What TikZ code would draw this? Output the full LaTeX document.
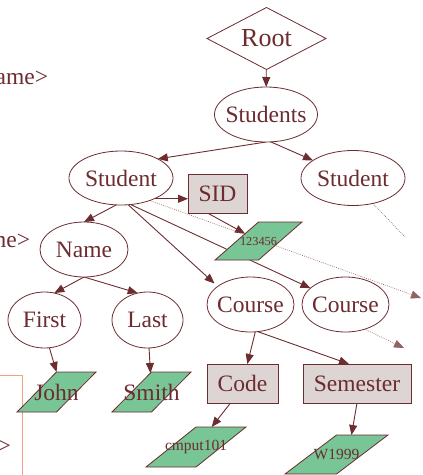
\documentclass[tikz,border=0pt]{standalone}
\usepackage{fontspec}
\setmainfont{Liberation Serif}
\usetikzlibrary{shapes.geometric,arrows.meta,calc,backgrounds}
\definecolor{mar}{RGB}{108,44,48}
\definecolor{boxg}{RGB}{220,213,211}
\definecolor{pgreen}{RGB}{120,197,150}
\definecolor{orng}{RGB}{240,160,130}
\begin{document}
\begin{tikzpicture}[x=1pt,y=-1pt,
  every node/.style={inner sep=0pt,outer sep=0pt,text=mar,font=\fontsize{23.5}{27}\selectfont},
  ell/.style={ellipse,draw=mar,line width=0.8pt,fill=white},
  rbox/.style={rectangle,draw=mar,line width=0.8pt,fill=boxg},
  para/.style={trapezium,trapezium stretches=true,draw=mar,line width=0.8pt,fill=pgreen},
  dia/.style={diamond,draw=mar,line width=0.8pt,fill=white},
  big/.style={font=\fontsize{26}{30}\selectfont},
  small/.style={font=\fontsize{15.5}{18}\selectfont},
  tiny/.style={font=\fontsize{12.3}{14}\selectfont},
  arr/.style={draw=mar,line width=0.9pt,-{Triangle[length=10pt,width=8pt]}},
  dotline/.style={draw=mar!75,line width=0.6pt,dash pattern=on 0.8pt off 1.2pt},
  dotarr/.style={dotline,-{Triangle[length=10pt,width=8pt]}}]
\useasboundingbox (0,0) rectangle (423,475);

% partial fragments at the left edge (cut off by the picture's edge, as in the reference)
\node[anchor=base east] (frag1) at (48,84) {Name>};
\node[anchor=base east] (frag2) at (30,247) {Name>};
\node[anchor=base east] (frag3) at (11,453) {>};
\draw[orng,line width=1pt] (0,375) -- (22,375) -- (22,476);

% nodes
\node[dia,big,minimum width=119,minimum height=62] (root) at (266.5,38.5) {\makebox[0pt]{Root}};
\node[ell,minimum width=103,minimum height=55] (students) at (266,114.5) {\makebox[0pt]{Students}};
\node[ell,minimum width=104,minimum height=54] (stud1) at (121,178) {\makebox[0pt]{Student}};
\node[ell,minimum width=104,minimum height=55] (stud2) at (353,178) {\makebox[0pt]{Student}};
\node[rbox,minimum width=59,minimum height=39] (sid) at (217.5,193.5) {\makebox[0pt]{SID}};
\node[para,trapezium left angle=66,trapezium right angle=114,minimum width=87,minimum height=38,tiny] (v1) at (258.5,241) {\makebox[0pt]{123456}};
\node[ell,minimum width=88,minimum height=55] (name) at (84,249.5) {\makebox[0pt]{Name}};
\node[ell,minimum width=73,minimum height=56] (first) at (44.5,320) {\makebox[0pt]{First}};
\node[ell,minimum width=71,minimum height=56] (last) at (147.5,320) {\makebox[0pt]{Last}};
\node[para,trapezium left angle=66,trapezium right angle=114,minimum width=79,minimum height=40] (john) at (56.5,392) {\makebox[0pt]{John}};
\node[para,trapezium left angle=66,trapezium right angle=114,minimum width=79,minimum height=40] (smith) at (151.5,392) {\makebox[0pt]{Smith}};
\node[ell,minimum width=87,minimum height=55] (course1) at (250.5,304.5) {\makebox[0pt]{Course}};
\node[ell,minimum width=87,minimum height=55] (course2) at (345.5,304.5) {\makebox[0pt]{Course}};
\node[rbox,minimum width=71,minimum height=39] (code) at (242.5,383.5) {\makebox[0pt]{Code}};
\node[rbox,minimum width=108,minimum height=39] (semester) at (357,383.5) {\makebox[0pt]{Semester}};
\node[para,trapezium left angle=63,trapezium right angle=117,minimum width=100,minimum height=40,small] (cm) at (196,447) {\makebox[0pt]{cmput101}};
\node[para,trapezium left angle=57,trapezium right angle=123,minimum width=103,minimum height=39,small] (w) at (336.5,454.5) {\makebox[0pt]{W1999}};

\coordinate (off1) at (421,298);
\coordinate (off2) at (405,237);
\coordinate (off3) at (404,348);

\begin{pgfonlayer}{background}
\draw[arr] (root) -- (students);
\draw[arr] (students.south) -- (stud1.north east);
\draw[arr] (students.-80) -- (stud2);
\draw[arr] (stud1.-32) -- (stud1.-32 -| sid.west);
\draw[arr] ($(sid.south)+(-10,0)$) -- (v1);
\draw[arr] (stud1.-100) -- (name.north);
\draw[arr] (stud1.-75) -- ($(course1.center)+(-36,-21)$);
\draw[arr] (stud1.-70) -- (course2);
\draw[dotarr] (stud1.-38) -- (off1);
\draw[dotline] (stud2.-52) -- (off2);
\draw[dotarr] (course2.-52) -- (off3);
\draw[arr] (name.south) -- (first.70);
\draw[arr] (name.south) -- (last.110);
\draw[arr] (first.-80) -- (john.north);
\draw[arr] (last) -- (smith);
\draw[arr] (course1.-80) -- (code);
\draw[arr] (course1.-75) -- ($(semester.north)+(-8,0)$);
\draw[arr] ($(code.south)+(-12,0)$) -- (cm);
\draw[arr] (semester.south) -- ($(w.north)+(15,0)$);
\end{pgfonlayer}
\end{tikzpicture}
\end{document}
